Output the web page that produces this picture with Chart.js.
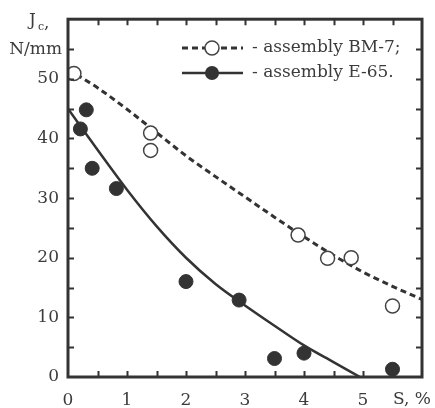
<!DOCTYPE html>
<html>
<head>
<meta charset="utf-8">
<script src="https://cdn.jsdelivr.net/npm/chart.js@4/dist/chart.umd.min.js"></script>
<style>
  html, body { margin: 0; padding: 0; background: #fff; }
  #wrap { width: 435px; height: 408px; }
</style>
</head>
<body>
<div id="wrap"><canvas id="chart" width="435" height="408"></canvas></div>
<script>
// measured points
const bmX = [0.1, 1.4, 1.4, 3.9, 4.4, 4.8, 5.5];
const bmY = [50.9, 40.9, 38, 23.8, 19.9, 20, 11.9];
const e65X = [0.21, 0.31, 0.41, 0.82, 2.0, 2.9, 3.5, 4.0, 5.5];
const e65Y = [41.6, 44.8, 35, 31.6, 16, 12.9, 3.1, 4.0, 1.3];

// fitted curves
const bmFitX = [0, 0.5, 1, 1.5, 2, 2.5, 3, 3.5, 4, 4.5, 5, 5.5, 6];
const bmFitY = [51.6, 48.5, 44.9, 41.0, 37.1, 33.6, 30.2, 26.8, 23.5, 20.4, 17.6, 15.2, 13.0];
const e65FitX = [0, 0.5, 1, 1.5, 2, 2.5, 3, 3.5, 4, 4.5, 4.95];
const e65FitY = [45, 38.1, 31.4, 25.3, 20.0, 15.6, 12.0, 8.6, 5.3, 2.5, 0];

const xTickLabels = ['0', '1', '2', '3', '4', '5'];
const yTickLabels = ['0', '10', '20', '30', '40', '50'];
const legendLabels = ['- assembly BM-7;', '- assembly E-65.'];

const ink = '#333';
const textInk = '#3c3c3c';
const font = '"DejaVu Serif", "Liberation Serif", serif';

const toPts = (xs, ys) => xs.map((x, i) => ({ x: x, y: ys[i] }));

const framePlugin = {
  id: 'frame',
  afterDraw(chart) {
    const ctx = chart.ctx;
    const a = chart.chartArea;
    const xs = chart.scales.x;
    const ys = chart.scales.y;
    ctx.save();
    ctx.strokeStyle = ink;
    ctx.lineWidth = 3;
    ctx.strokeRect(a.left, a.top, a.right - a.left, a.bottom - a.top);

    // inward ticks on all sides
    ctx.lineWidth = 2;
    ctx.beginPath();
    for (let v = 0.5; v < 6; v += 0.5) {
      const px = Math.round(xs.getPixelForValue(v)) + 0.5;
      ctx.moveTo(px, a.bottom); ctx.lineTo(px, a.bottom - 6);
      ctx.moveTo(px, a.top); ctx.lineTo(px, a.top + 6);
    }
    for (let v = 5; v < 60; v += 5) {
      const py = Math.round(ys.getPixelForValue(v)) + 0.5;
      ctx.moveTo(a.left, py); ctx.lineTo(a.left + 6, py);
      ctx.moveTo(a.right, py); ctx.lineTo(a.right - 6, py);
    }
    ctx.stroke();

    // axis titles
    ctx.fillStyle = textInk;
    ctx.font = '17px ' + font;
    ctx.textBaseline = 'middle';
    ctx.textAlign = 'left';
    ctx.fillText('J', 29, 21);
    ctx.font = '11px ' + font;
    ctx.fillText('c', 38, 27);
    ctx.font = '17px ' + font;
    ctx.fillText(',', 44, 24);
    ctx.textAlign = 'right';
    ctx.fillText('N/mm', 62, 50);
    ctx.textAlign = 'center';
    ctx.fillText('S, %', 412, 400);

    // legend
    const lx = 182, lx2 = 243, cx = 212;
    const rows = [48, 73];
    ctx.strokeStyle = ink;
    ctx.lineWidth = 3;
    ctx.setLineDash([6, 4]);
    ctx.beginPath();
    ctx.moveTo(lx, rows[0]); ctx.lineTo(cx - 7, rows[0]);
    ctx.moveTo(cx + 9, rows[0]); ctx.lineTo(lx2, rows[0]);
    ctx.stroke();
    ctx.setLineDash([]);
    ctx.lineWidth = 2.5;
    ctx.beginPath();
    ctx.moveTo(lx, rows[1]); ctx.lineTo(lx2, rows[1]);
    ctx.stroke();
    ctx.beginPath();
    ctx.arc(cx, rows[0], 7, 0, Math.PI * 2);
    ctx.fillStyle = '#fff';
    ctx.fill();
    ctx.lineWidth = 1.5;
    ctx.strokeStyle = '#444';
    ctx.stroke();
    ctx.beginPath();
    ctx.arc(cx, rows[1], 7, 0, Math.PI * 2);
    ctx.fillStyle = ink;
    ctx.fill();
    ctx.fillStyle = textInk;
    ctx.font = '17px ' + font;
    ctx.textAlign = 'left';
    ctx.fillText(legendLabels[0], 252, rows[0]);
    ctx.fillText(legendLabels[1], 252, rows[1]);
    ctx.restore();
  }
};

new Chart(document.getElementById('chart'), {
  type: 'scatter',
  data: {
    datasets: [
      {
        label: 'BM-7 fit',
        data: toPts(bmFitX, bmFitY),
        showLine: true,
        borderColor: ink,
        borderWidth: 3,
        borderDash: [6, 4],
        pointRadius: 0,
        cubicInterpolationMode: 'monotone',
        order: 3
      },
      {
        label: 'E-65 fit',
        data: toPts(e65FitX, e65FitY),
        showLine: true,
        borderColor: ink,
        borderWidth: 2.5,
        pointRadius: 0,
        cubicInterpolationMode: 'monotone',
        order: 3
      },
      {
        label: legendLabels[0],
        data: toPts(bmX, bmY),
        pointRadius: 7,
        pointBackgroundColor: '#fff',
        pointBorderColor: '#444',
        pointBorderWidth: 1.5,
        order: 1
      },
      {
        label: legendLabels[1],
        data: toPts(e65X, e65Y),
        pointRadius: 7,
        pointBackgroundColor: ink,
        pointBorderColor: ink,
        pointBorderWidth: 1,
        order: 1
      }
    ]
  },
  options: {
    responsive: false,
    animation: false,
    layout: { padding: { left: 0, top: 18, right: 10, bottom: 0 } },
    plugins: {
      legend: { display: false },
      tooltip: { enabled: false }
    },
    scales: {
      x: {
        type: 'linear',
        min: 0,
        max: 6,
        grid: { display: false, drawTicks: false },
        border: { display: false },
        ticks: {
          stepSize: 1,
          padding: 13,
          color: textInk,
          font: { family: font, size: 17 },
          maxRotation: 0,
          callback: v => (Number.isInteger(v) && v < 6 ? xTickLabels[v] : '')
        },
        afterFit: s => { s.height = 31; }
      },
      y: {
        type: 'linear',
        min: 0,
        max: 60,
        grid: { display: false, drawTicks: false },
        border: { display: false },
        ticks: {
          stepSize: 10,
          padding: 9,
          color: textInk,
          font: { family: font, size: 17 },
          callback: v => (v < 60 ? yTickLabels[v / 10] : '')
        },
        afterFit: s => { s.width = 68; }
      }
    }
  },
  plugins: [framePlugin]
});
</script>
</body>
</html>
